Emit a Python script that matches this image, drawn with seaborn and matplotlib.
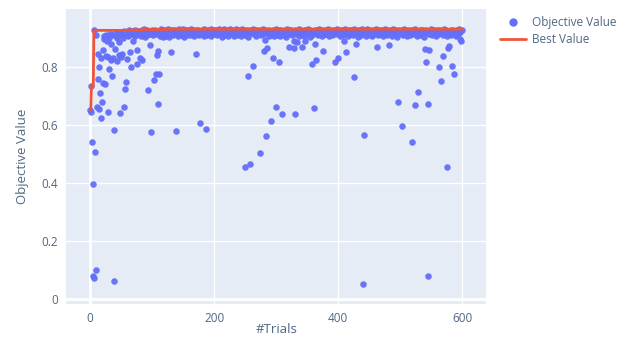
import numpy as np
import pandas as pd
import matplotlib
matplotlib.use("Agg")
import matplotlib.pyplot as plt
from matplotlib.lines import Line2D
import seaborn as sns

# objective value of each trial (trial number = position in the list)
objective_values = [
    0.652, 0.646, 0.735, 0.54, 0.08, 0.395, 0.926, 0.072, 0.506, 0.91, 0.102, 0.663, 0.758, 0.846, 0.80, 0.654, 0.709, 0.83, 0.623, 0.68,
    0.744, 0.86, 0.895, 0.905, 0.740, 0.838, 0.91, 0.89, 0.646, 0.835, 0.794, 0.90, 0.915, 0.825, 0.88, 0.91, 0.769, 0.83, 0.063, 0.584,
    0.863, 0.905, 0.92, 0.82, 0.90, 0.915, 0.885, 0.84, 0.64, 0.91, 0.835, 0.845, 0.92, 0.90, 0.661, 0.925, 0.724, 0.91, 0.747, 0.828,
    0.918, 0.905, 0.927, 0.91, 0.853, 0.921, 0.799, 0.915, 0.925, 0.89, 0.923, 0.912, 0.928, 0.905, 0.919, 0.86, 0.81, 0.925, 0.915, 0.922,
    0.83, 0.921, 0.908, 0.926, 0.825, 0.918, 0.929, 0.912, 0.903, 0.924, 0.917, 0.927, 0.909, 0.921, 0.72, 0.925, 0.876, 0.915, 0.575, 0.922,
    0.928, 0.91, 0.923, 0.755, 0.919, 0.926, 0.777, 0.84, 0.913, 0.672, 0.855, 0.777, 0.924, 0.906, 0.929, 0.917, 0.921, 0.902, 0.926, 0.914,
    0.923, 0.928, 0.908, 0.919, 0.925, 0.912, 0.93, 0.904, 0.921, 0.917, 0.926, 0.85, 0.924, 0.91, 0.928, 0.915, 0.92, 0.927, 0.579, 0.922,
    0.918, 0.925, 0.906, 0.929, 0.914, 0.922, 0.927, 0.91, 0.924, 0.919, 0.93, 0.903, 0.925, 0.916, 0.921, 0.928, 0.911, 0.923, 0.926, 0.917,
    0.924, 0.909, 0.929, 0.92, 0.915, 0.927, 0.922, 0.906, 0.925, 0.918, 0.845, 0.928, 0.913, 0.923, 0.926, 0.919, 0.91, 0.606, 0.925, 0.921,
    0.927, 0.914, 0.922, 0.929, 0.908, 0.924, 0.587, 0.918, 0.926, 0.911, 0.923, 0.928, 0.916, 0.921, 0.93, 0.905, 0.925, 0.919, 0.927, 0.913,
    0.922, 0.928, 0.917, 0.924, 0.909, 0.926, 0.92, 0.929, 0.912, 0.923, 0.918, 0.927, 0.904, 0.925, 0.921, 0.93, 0.915, 0.924, 0.91, 0.926,
    0.919, 0.923, 0.928, 0.907, 0.925, 0.916, 0.929, 0.921, 0.913, 0.927, 0.92, 0.924, 0.908, 0.926, 0.918, 0.93, 0.911, 0.922, 0.928, 0.915,
    0.925, 0.919, 0.927, 0.906, 0.923, 0.929, 0.914, 0.921, 0.926, 0.91, 0.454, 0.924, 0.918, 0.928, 0.903, 0.77, 0.922, 0.927, 0.466, 0.916,
    0.925, 0.92, 0.929, 0.803, 0.912, 0.926, 0.918, 0.923, 0.907, 0.928, 0.915, 0.924, 0.921, 0.505, 0.927, 0.91, 0.925, 0.919, 0.929, 0.913,
    0.856, 0.922, 0.893, 0.926, 0.562, 0.864, 0.917, 0.924, 0.908, 0.928, 0.92, 0.615, 0.925, 0.914, 0.832, 0.927, 0.905, 0.923, 0.919, 0.663,
    0.929, 0.911, 0.924, 0.918, 0.818, 0.926, 0.906, 0.921, 0.928, 0.639, 0.915, 0.925, 0.91, 0.922, 0.927, 0.903, 0.924, 0.919, 0.93, 0.913,
    0.921, 0.868, 0.926, 0.917, 0.928, 0.909, 0.923, 0.925, 0.864, 0.89, 0.639, 0.927, 0.912, 0.885, 0.924, 0.918, 0.929, 0.906, 0.922, 0.926,
    0.915, 0.868, 0.925, 0.92, 0.928, 0.908, 0.923, 0.89, 0.926, 0.913, 0.921, 0.929, 0.917, 0.924, 0.904, 0.927, 0.919, 0.911, 0.81, 0.925,
    0.922, 0.657, 0.928, 0.879, 0.825, 0.926, 0.914, 0.923, 0.909, 0.929, 0.918, 0.925, 0.92, 0.907, 0.927, 0.855, 0.921, 0.924, 0.915, 0.928,
    0.912, 0.926, 0.919, 0.923, 0.929, 0.905, 0.925, 0.917, 0.922, 0.928, 0.91, 0.924, 0.92, 0.927, 0.818, 0.913, 0.926, 0.921, 0.929, 0.832,
    0.918, 0.925, 0.908, 0.923, 0.928, 0.914, 0.926, 0.92, 0.911, 0.89, 0.924, 0.929, 0.916, 0.853, 0.922, 0.927, 0.906, 0.925, 0.919, 0.928,
    0.913, 0.923, 0.926, 0.909, 0.921, 0.929, 0.767, 0.917, 0.924, 0.878, 0.92, 0.928, 0.904, 0.925, 0.915, 0.927, 0.911, 0.922, 0.93, 0.918,
    0.053, 0.924, 0.566, 0.919, 0.926, 0.908, 0.923, 0.929, 0.914, 0.921, 0.927, 0.91, 0.925, 0.917, 0.928, 0.906, 0.922, 0.926, 0.913, 0.92,
    0.929, 0.916, 0.868, 0.924, 0.909, 0.927, 0.921, 0.925, 0.912, 0.928, 0.918, 0.923, 0.905, 0.926, 0.919, 0.929, 0.914, 0.922, 0.927, 0.91,
    0.924, 0.92, 0.876, 0.928, 0.915, 0.925, 0.907, 0.923, 0.929, 0.918, 0.926, 0.912, 0.921, 0.927, 0.903, 0.924, 0.919, 0.68, 0.928, 0.916,
    0.925, 0.921, 0.597, 0.927, 0.91, 0.923, 0.929, 0.914, 0.926, 0.918, 0.922, 0.908, 0.928, 0.924, 0.917, 0.925, 0.911, 0.927, 0.92, 0.54,
    0.926, 0.913, 0.923, 0.669, 0.929, 0.916, 0.921, 0.906, 0.715, 0.925, 0.919, 0.928, 0.91, 0.924, 0.927, 0.915, 0.922, 0.926, 0.904, 0.862,
    0.92, 0.928, 0.818, 0.924, 0.08, 0.672, 0.912, 0.858, 0.925, 0.918, 0.929, 0.909, 0.923, 0.926, 0.915, 0.921, 0.927, 0.905, 0.924, 0.919,
    0.928, 0.913, 0.922, 0.80, 0.926, 0.752, 0.917, 0.925, 0.838, 0.91, 0.923, 0.929, 0.916, 0.921, 0.927, 0.908, 0.456, 0.864, 0.873, 0.924,
    0.918, 0.926, 0.911, 0.922, 0.804, 0.928, 0.776, 0.915, 0.925, 0.92, 0.906, 0.927, 0.913, 0.923, 0.929, 0.917, 0.895, 0.921, 0.891, 0.926,
]
trials = np.arange(len(objective_values))
best_values = np.maximum.accumulate(objective_values)

x_ticks = [0, 200, 400, 600]
y_ticks = [0, 0.2, 0.4, 0.6, 0.8]
y_tick_labels = ["0", "0.2", "0.4", "0.6", "0.8"]

df = pd.DataFrame({"trial": trials, "value": objective_values, "best": best_values})

sns.set_theme(style="darkgrid", rc={
    "axes.facecolor": "#e5ecf6",
    "grid.color": "white",
    "grid.linewidth": 1.0,
    "axes.edgecolor": "#e5ecf6",
})
plt.rcParams["font.family"] = ["Open Sans", "DejaVu Sans"]

fig = plt.figure(figsize=(6.3, 3.42), dpi=100)
ax = fig.add_axes([0.105, 0.111, 0.667, 0.863])

ax.axhline(0, color="white", lw=2, zorder=1)
ax.axvline(0, color="white", lw=2, zorder=1)

sns.scatterplot(data=df, x="trial", y="value", ax=ax, color="#636efa",
                s=22, linewidth=0, alpha=0.95, zorder=3, legend=False)
sns.lineplot(data=df, x="trial", y="best", ax=ax, color="#ef553b",
             lw=2, estimator=None, zorder=4, legend=False)

ax.set_xlim(-38.7, 638.7)
ax.set_ylim(-0.017, 1.0)
ax.set_xticks(x_ticks)
ax.set_yticks(y_ticks)
ax.set_yticklabels(y_tick_labels)
ax.tick_params(colors="#506784", labelsize=8.5, length=0, pad=6)
ax.set_xlabel("#Trials", color="#506784", fontsize=9.5, labelpad=-2)
ax.set_ylabel("Objective Value", color="#506784", fontsize=9.5, labelpad=9)
for s in ax.spines.values():
    s.set_visible(False)

handles = [
    Line2D([], [], marker="o", ls="none", color="#636efa", markersize=5),
    Line2D([], [], color="#ef553b", lw=2),
]
fig.legend(handles, ["Objective Value", "Best Value"], loc="upper left",
           bbox_to_anchor=(0.777, 0.985), frameon=False, fontsize=8.5,
           labelcolor="#506784", handlelength=2.2, handletextpad=0.5,
           labelspacing=0.35)

fig.savefig("out.png", dpi=100, facecolor="white")
